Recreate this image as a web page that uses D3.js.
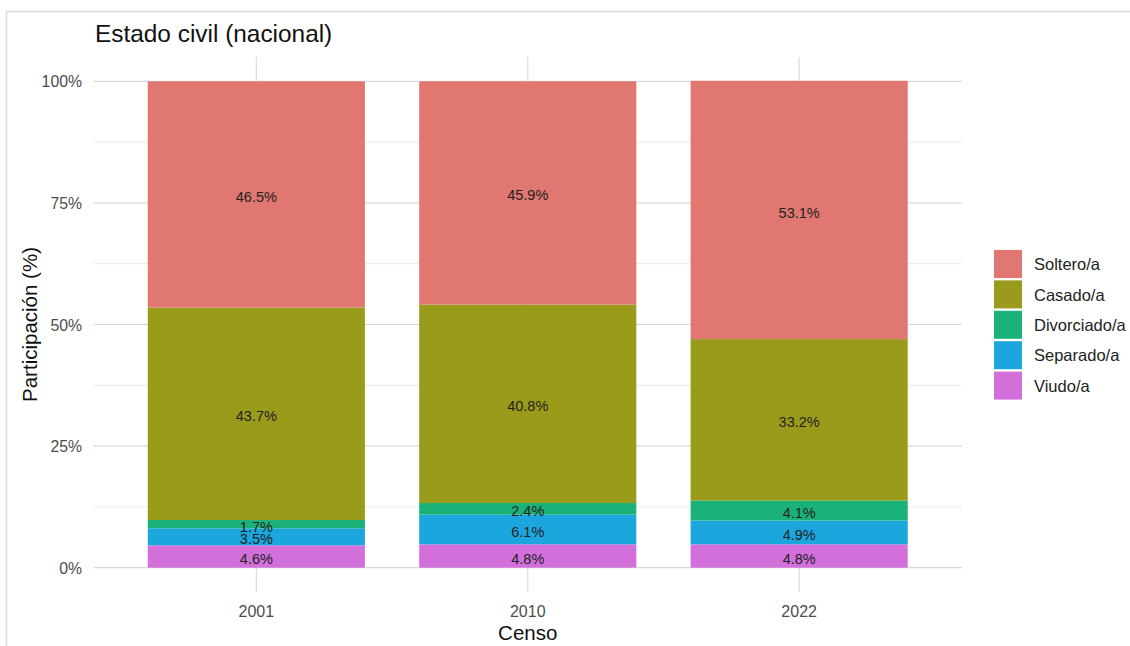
<!DOCTYPE html>
<html>
<head>
<meta charset="utf-8">
<script src="https://cdn.jsdelivr.net/npm/d3@7"></script>
<style>
  html, body { margin: 0; padding: 0; background: #fff; }
  svg { display: block; font-family: "Liberation Sans", Arial, sans-serif; }
</style>
</head>
<body>
<svg id="chart" width="1130" height="646"></svg>
<script>
// ---- data ----
const years = ["2001", "2010", "2022"];
const categories = ["Soltero/a", "Casado/a", "Divorciado/a", "Separado/a", "Viudo/a"];
// values per year in the order of categories (percent)
const soltero    = [46.5, 45.9, 53.1];
const casado     = [43.7, 40.8, 33.2];
const divorciado = [1.7, 2.4, 4.1];
const separado   = [3.5, 6.1, 4.9];
const viudo      = [4.6, 4.8, 4.8];
const colors = ["#E07770", "#9A9B1A", "#1BB27A", "#1BA6DD", "#D36FDB"];
const yTicks = [0, 0.25, 0.5, 0.75, 1];
const yMinor = [0.125, 0.375, 0.625, 0.875];

const seriesValues = [soltero, casado, divorciado, separado, viudo];

// ---- layout ----
const svg = d3.select("#chart");
const W = 1130, H = 646;
const panel = { left: 93.5, right: 962, top: 57, bottom: 592 };

// outer border
svg.append("rect")
  .attr("x", 6.5).attr("y", 11.5)
  .attr("width", W + 10).attr("height", H + 10)
  .attr("fill", "none").attr("stroke", "#d9d9d9").attr("stroke-width", 1.5);

const x = d3.scaleBand().domain(years)
  .range([panel.left, panel.right])
  .paddingInner(0.2).paddingOuter(0.2);
const y = d3.scaleLinear().domain([-0.05, 1.05]).range([panel.bottom, panel.top]);

// gridlines
const grid = svg.append("g");
grid.selectAll(".minor").data(yMinor).enter().append("line")
  .attr("x1", panel.left).attr("x2", panel.right)
  .attr("y1", d => y(d)).attr("y2", d => y(d))
  .attr("stroke", "#e3e3e3").attr("stroke-width", 0.8);
grid.selectAll(".major").data(yTicks).enter().append("line")
  .attr("x1", panel.left).attr("x2", panel.right)
  .attr("y1", d => y(d)).attr("y2", d => y(d))
  .attr("stroke", "#dadada").attr("stroke-width", 1.2);
grid.selectAll(".vmajor").data(years).enter().append("line")
  .attr("x1", d => x(d) + x.bandwidth() / 2).attr("x2", d => x(d) + x.bandwidth() / 2)
  .attr("y1", panel.top).attr("y2", panel.bottom)
  .attr("stroke", "#dadada").attr("stroke-width", 1.2);

// stacked data: bottom category is the last one (Viudo/a)
const rows = years.map((yr, i) => {
  const r = { year: yr };
  categories.forEach((c, j) => r[c] = seriesValues[j][i] / 100);
  return r;
});
const stackOrder = categories.slice().reverse();
const stack = d3.stack().keys(stackOrder)(rows);

const colorOf = d3.scaleOrdinal().domain(categories).range(colors);

const bars = svg.append("g");
stack.forEach(layer => {
  bars.selectAll(null).data(layer).enter().append("rect")
    .attr("x", d => x(d.data.year))
    .attr("width", x.bandwidth())
    .attr("y", d => y(d[1]))
    .attr("height", d => y(d[0]) - y(d[1]))
    .attr("fill", colorOf(layer.key));
});

// value labels
const labels = svg.append("g");
stack.forEach(layer => {
  labels.selectAll(null).data(layer).enter().append("text")
    .attr("x", d => x(d.data.year) + x.bandwidth() / 2)
    .attr("y", d => y((d[0] + d[1]) / 2))
    .attr("dy", "0.52em")
    .attr("text-anchor", "middle")
    .attr("font-size", 14.5)
    .attr("fill", "#222")
    .text(d => (d.data[layer.key] * 100).toFixed(1) + "%");
});

// y tick labels
const fmt = d3.format(".0%");
svg.append("g").selectAll("text").data(yTicks).enter().append("text")
  .attr("x", 82).attr("y", d => y(d)).attr("dy", "0.38em")
  .attr("text-anchor", "end").attr("font-size", 15.8).attr("fill", "#4d4d4d")
  .text(d => fmt(d));

// x tick labels
svg.append("g").selectAll("text").data(years).enter().append("text")
  .attr("x", d => x(d) + x.bandwidth() / 2).attr("y", 617)
  .attr("text-anchor", "middle").attr("font-size", 16).attr("fill", "#4d4d4d")
  .text(d => d);

// axis titles
svg.append("text")
  .attr("x", (panel.left + panel.right) / 2).attr("y", 640)
  .attr("text-anchor", "middle").attr("font-size", 20.5).attr("fill", "#111")
  .text("Censo");
svg.append("text")
  .attr("transform", `translate(37,${(panel.top + panel.bottom) / 2}) rotate(-90)`)
  .attr("text-anchor", "middle").attr("font-size", 20.5).attr("fill", "#111")
  .text("Participación (%)");

// title
svg.append("text")
  .attr("x", 95).attr("y", 42)
  .attr("font-size", 24.4).attr("fill", "#111")
  .text("Estado civil (nacional)");

// legend
const lg = svg.append("g").attr("transform", "translate(994,250)");
categories.forEach((c, i) => {
  lg.append("rect").attr("x", 0).attr("y", i * 30.4)
    .attr("width", 28).attr("height", 28).attr("fill", colorOf(c));
  lg.append("text").attr("x", 40).attr("y", i * 30.4 + 14).attr("dy", "0.38em")
    .attr("font-size", 16.5).attr("fill", "#222").text(c);
});
</script>
</body>
</html>
